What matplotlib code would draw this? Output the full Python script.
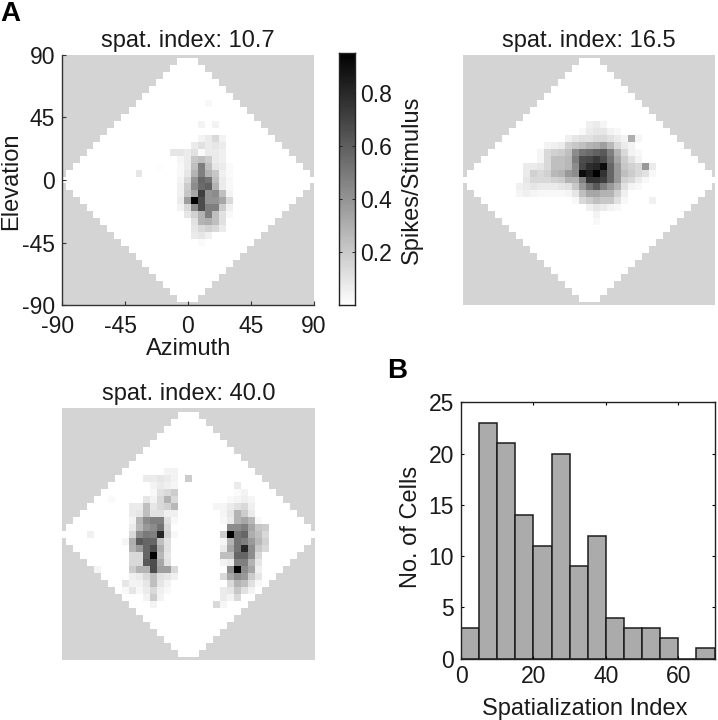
import numpy as np
import matplotlib
matplotlib.use("Agg")
import matplotlib.pyplot as plt
from matplotlib.colors import LinearSegmentedColormap
from matplotlib.transforms import ScaledTranslation

plt.rcParams['font.family'] = ['Liberation Sans', 'DejaVu Sans']
plt.rcParams['axes.unicode_minus'] = False

W, H = 718, 720
PEAK = 0.93
GRID = np.arange(-90, 95, 5)

# Each row: (elevation, first azimuth, darkness in percent of peak per 5 deg cell)
MAP_A_ROWS = [
    (55, 15, [3]),
    (40, 10, [5, 0, 5]),
    (30, 10, [5, 8, 15, 5]),
    (25, 5, [8, 12, 8, 10, 8]),
    (20, -10, [10, 10, 8, 12, 2, 8, 8, 6]),
    (15, -5, [4, 8, 22, 25, 20, 8, 6]),
    (10, -20, [1, 0, 0, 3, 8, 25, 50, 25, 10, 8, 2]),
    (5, -35, [10]),
    (5, -5, [3, 10, 30, 50, 30, 22, 6, 2]),
    (0, -5, [5, 15, 42, 60, 55, 25, 8, 3]),
    (-5, -5, [6, 20, 45, 58, 62, 30, 8, 3]),
    (-10, -5, [6, 22, 35, 75, 42, 45, 25, 5]),
    (-15, -5, [8, 38, 100, 70, 42, 42, 35, 15]),
    (-20, -5, [5, 15, 45, 70, 50, 50, 20, 6]),
    (-25, 0, [10, 18, 30, 50, 25, 12, 3]),
    (-30, 5, [12, 30, 32, 25, 12]),
    (-35, 5, [10, 15, 18, 15, 8]),
    (-40, 5, [8, 10, 6]),
    (-45, 10, [2]),
]
MAP_B_ROWS = [
    (40, 0, [6, 8, 4]),
    (35, -5, [3, 8, 10, 10, 5, 3]),
    (30, -15, [6, 10, 12, 12, 15, 15, 12, 8, 5, 32, 4]),
    (25, -30, [5, 6, 8, 18, 22, 25, 30, 32, 38, 28, 15, 8, 5]),
    (20, -35, [4, 15, 18, 20, 25, 45, 55, 58, 62, 65, 50, 30, 15, 5, 3]),
    (15, -35, [4, 15, 25, 25, 28, 50, 70, 72, 78, 70, 55, 35, 20, 12, 5]),
    (10, -45, [8, 8, 10, 15, 25, 25, 28, 45, 72, 82, 85, 95, 60, 40, 22, 18, 15, 40, 8]),
    (5, -45, [8, 18, 15, 18, 28, 30, 40, 45, 95, 88, 100, 80, 60, 40, 25, 20, 15, 12, 3]),
    (0, -45, [10, 15, 15, 15, 18, 20, 30, 30, 50, 80, 80, 75, 60, 40, 18, 15, 8, 3]),
    (-5, -50, [6, 8, 10, 8, 8, 8, 10, 12, 22, 40, 55, 65, 50, 40, 30, 12, 5, 3]),
    (-10, -50, [4, 6, 4, 3, 3, 3, 3, 4, 10, 25, 35, 35, 30, 30, 18, 6]),
    (-15, -10, [3, 15, 20, 25, 22, 22, 12, 3]),
    (-15, 45, [6]),
    (-20, 0, [6, 10, 8, 5, 3]),
    (-25, 5, [5]),
    (-30, 5, [3]),
]
MAP_C_ROWS = [
    (45, -15, [5, 5]),
    (40, -30, [8, 8, 10, 8, 5, 0, 20]),
    (35, -25, [5, 8, 6, 4]),
    (35, 35, [8]),
    (30, -25, [3, 12, 15, 20]),
    (30, 35, [2, 5]),
    (25, -30, [10, 5, 15, 30, 15]),
    (25, 30, [3, 4, 6, 4]),
    (25, -55, [2]),
    (20, -40, [8, 8, 25, 10, 15, 18, 28]),
    (20, 20, [4, 4, 8, 12, 15, 6]),
    (15, -40, [8, 10, 25, 12, 12, 6, 6]),
    (15, 25, [4, 10, 30, 20, 8]),
    (10, -40, [5, 30, 45, 50, 50, 12, 3]),
    (10, 25, [3, 8, 30, 35, 28, 3]),
    (5, -40, [8, 28, 40, 45, 55, 15]),
    (5, 30, [45, 45, 50, 35, 22, 20]),
    (0, -70, [6]),
    (0, -40, [15, 45, 52, 50, 85, 18, 3]),
    (0, 25, [20, 100, 55, 60, 32, 25, 15]),
    (-5, -45, [4, 32, 65, 60, 60, 25, 12]),
    (-5, 25, [4, 30, 55, 50, 40, 28, 18]),
    (-10, -40, [30, 40, 60, 70, 32, 12]),
    (-10, 25, [8, 35, 55, 85, 45, 22, 15]),
    (-15, -40, [15, 15, 60, 100, 28, 10]),
    (-15, 25, [25, 25, 60, 60, 45, 15]),
    (-20, -40, [15, 15, 65, 70, 35, 12]),
    (-20, 25, [5, 8, 50, 50, 30, 10]),
    (-25, -65, [4]),
    (-25, -40, [20, 30, 30, 70, 38, 38, 15]),
    (-25, 30, [45, 100, 45, 35, 6]),
    (-30, -40, [6, 8, 15, 25, 12, 10, 6]),
    (-30, 25, [15, 35, 45, 40, 20, 10]),
    (-35, -45, [10, 5, 5, 10, 25, 10, 5]),
    (-35, 30, [15, 30, 25, 12, 3]),
    (-40, -45, [3, 10, 3, 8, 15, 6, 3]),
    (-40, 25, [8, 10, 22, 12, 5]),
    (-45, -30, [5, 20, 5]),
    (-45, 25, [8, 5, 15]),
    (-50, -25, [5]),
    (-50, 20, [15, 4]),
]

HIST_COUNTS = [3, 23, 21, 14, 11, 20, 9, 12, 4, 3, 3, 2, 0, 1]
HIST_EDGES = list(range(0, 75, 5))
TITLES = ["spat. index: 10.7", "spat. index: 16.5", "spat. index: 40.0"]
ANGLE_TICKS = [-90, -45, 0, 45, 90]
CBAR_TICKS = [0.2, 0.4, 0.6, 0.8]

DARK = '#1a1a1a'
FS = 17
TS = 16.5
cmap = LinearSegmentedColormap.from_list('g', ['#ffffff', '#000000'], 256)
cmap.set_bad('#d4d4d4')

fig = plt.figure(figsize=(W / 100, H / 100), dpi=100, facecolor='white')


def ax_px(x0, y0, x1, y1):
    return fig.add_axes([x0 / W, 1 - y1 / H, (x1 - x0) / W, (y1 - y0) / H])


def place_label(axis, x, y):
    axis.set_label_coords(x / W, 1 - y / H, transform=fig.transFigure)
    axis.label.set_verticalalignment('center')
    axis.label.set_horizontalalignment('center')


def draw_map(ax, rows):
    az, el = np.meshgrid(GRID, GRID)
    z = np.zeros_like(az, dtype=float)
    for elev, first, vals in rows:
        r = list(GRID).index(elev)
        c = list(GRID).index(first)
        for k, v in enumerate(vals):
            z[r, c + k] = v / 100 * PEAK
    outside = (np.abs(az) + np.abs(el) > 90) | (np.abs(el) == 90)
    z = np.where(outside, np.nan, z)
    edges = np.append(GRID - 2.5, GRID[-1] + 2.5)
    ax.pcolormesh(edges, edges, np.ma.masked_invalid(z), cmap=cmap, vmin=0,
                  vmax=PEAK, shading='flat', antialiased=False, rasterized=True)
    ax.set_xlim(-90, 90)
    ax.set_ylim(-90, 90)


a1 = ax_px(62, 55, 314, 305)
draw_map(a1, MAP_A_ROWS)
for s in ['top', 'right']:
    a1.spines[s].set_visible(False)
for s in ['left', 'bottom']:
    a1.spines[s].set_color('#333333')
    a1.spines[s].set_linewidth(1.0)
a1.set_xticks(ANGLE_TICKS)
a1.set_yticks(ANGLE_TICKS)
a1.tick_params(direction='in', length=3, width=0.8, color='#333333', labelsize=TS,
               labelcolor=DARK)
a1.tick_params(axis='x', pad=7)
a1.tick_params(axis='y', pad=5)
shift = ScaledTranslation(-4 / 100, 0, fig.dpi_scale_trans)
for lab, v in zip(a1.get_xticklabels(), ANGLE_TICKS):
    if v < 0:
        lab.set_transform(lab.get_transform() + shift)
a1.set_xlabel("Azimuth", fontsize=FS, color=DARK)
a1.set_ylabel("Elevation", fontsize=FS, color=DARK)
place_label(a1.xaxis, 189, 349)
place_label(a1.yaxis, 11, 181)

a2 = ax_px(463, 55, 715, 305)
draw_map(a2, MAP_B_ROWS)
a3 = ax_px(62, 408, 315, 660)
draw_map(a3, MAP_C_ROWS)
for a in (a2, a3):
    a.axis('off')

for a, t in zip((a1, a2, a3), TITLES):
    a.annotate(t, xy=(0.5, 1.0), xycoords='axes fraction', xytext=(0, 2),
               textcoords='offset points', ha='center', va='bottom',
               fontsize=FS, color=DARK)

# colour bar
cb = ax_px(339, 53, 355, 305)
vals = np.linspace(0.002, 0.9485, 256).reshape(-1, 1)
cb.imshow(vals, origin='lower', aspect='auto', cmap='gray_r', vmin=0.002, vmax=0.9485,
          extent=[0, 1, 0.002, 0.9485])
cb.set_xticks([])
cb.yaxis.tick_right()
cb.set_yticks(CBAR_TICKS)
cb.set_yticklabels([f"{v:.1f}" for v in CBAR_TICKS])
cb.tick_params(axis='y', direction='in', length=2.5, width=0.7, left=True, right=True,
               labelsize=TS, labelcolor=DARK, pad=4, color='#222222')
for s in cb.spines.values():
    s.set_linewidth(1.0)
    s.set_color('#222222')
cb.yaxis.set_label_position('right')
cb.set_ylabel("Spikes/Stimulus", fontsize=FS, color=DARK, rotation=90)
place_label(cb.yaxis, 412, 180)

# histogram
h = ax_px(461, 402.5, 714.5, 658.5)
h.bar(HIST_EDGES[:-1], HIST_COUNTS, width=5, align='edge', color='#ababab',
      edgecolor='#1c1c1c', linewidth=1.1)
h.set_xlim(0, 70)
h.set_ylim(0, 25)
h.set_xticks([0, 20, 40, 60])
h.set_yticks([0, 5, 10, 15, 20, 25])
h.tick_params(direction='in', length=2.5, width=0.8, top=True, right=True, labelsize=TS,
              labelcolor=DARK, pad=5)
for s in h.spines.values():
    s.set_linewidth(1.0)
    s.set_color('#222222')
h.set_xlabel("Spatialization Index", fontsize=FS, color=DARK)
h.set_ylabel("No. of Cells", fontsize=FS, color=DARK)
place_label(h.xaxis, 585, 709)
place_label(h.yaxis, 411, 527)

fig.text(0 / W, 1 - 21 / H, "A", fontsize=20, fontweight='bold', color='black',
         ha='left', va='baseline')
fig.text(387 / W, 1 - 378 / H, "B", fontsize=20, fontweight='bold', color='black',
         ha='left', va='baseline')

fig.savefig('out.png', dpi=100, facecolor='white')
